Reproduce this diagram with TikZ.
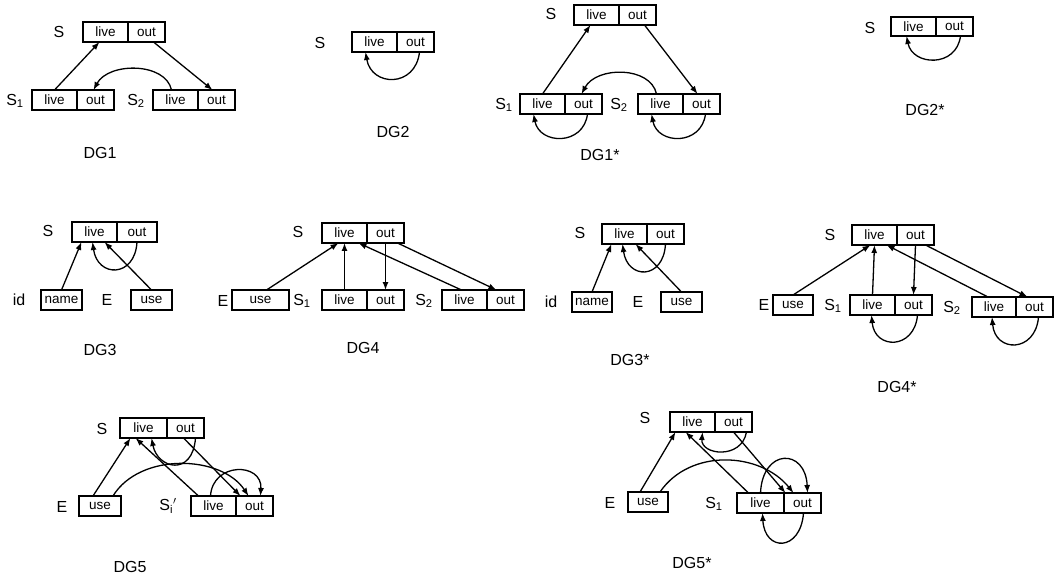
\documentclass[tikz,border=0pt]{standalone}
\usepackage{fontspec}
\setmainfont{Liberation Sans}
\usetikzlibrary{arrows.meta, positioning}
\tikzset{
    cell/.style={draw, line width=1.3pt, inner sep=0pt, outer sep=0pt,
        minimum height=20pt, font=\fontsize{13.5}{13.5}\selectfont},
    livecell/.style={cell, minimum width=45pt},
    outcell/.style={cell, minimum width=37pt},
    lbl/.style={font=\fontsize{16}{16}\selectfont},
    ttl/.style={font=\fontsize{16}{16}\selectfont},
    edge/.style={line width=1.3pt, -{Latex[length=8pt,width=6pt]}},
}

\begin{document}
\begin{tikzpicture}[x=1pt, y=-1pt]
\useasboundingbox (0,0) rectangle (1062,577);

% DG1
\node[lbl] (dg1-S) at (59,32) {S};
\node[livecell, anchor=north west] (dg1-Sl) at (83,22) {live};
\node[outcell, right=0pt of dg1-Sl] (dg1-So) {out};
\node[lbl] (dg1-S1) at (15,101) {S\textsubscript{1}};
\node[livecell, anchor=north west] (dg1-S1l) at (32,90) {live};
\node[outcell, right=0pt of dg1-S1l] (dg1-S1o) {out};
\node[lbl] (dg1-S2) at (136,101) {S\textsubscript{2}};
\node[livecell, anchor=north west] (dg1-S2l) at (153,90) {live};
\node[outcell, right=0pt of dg1-S2l] (dg1-S2o) {out};
\draw[edge] (dg1-S1l.north) -- ([xshift=-6pt]dg1-Sl.south);
\draw[edge] ([xshift=7pt]dg1-So.south) -- ([xshift=-4pt]dg1-S2o.north);
\draw[edge] ([xshift=-4pt]dg1-S2l.north) .. controls +(-6,-28) and +(15,-28) .. ([xshift=-2pt]dg1-S1o.north);
\node[ttl] (dg1-t) at (100,153) {DG1};

% DG2
\node[lbl] (dg2-S) at (320,43) {S};
\node[livecell, anchor=north west] (dg2-Sl) at (352,32) {live};
\node[outcell, right=0pt of dg2-Sl] (dg2-So) {out};
\draw[edge] ([xshift=4pt]dg2-So.south) .. controls +(-4,36) and +(6,35) .. ([xshift=-9pt]dg2-Sl.south);
\node[ttl] (dg2-t) at (393,132) {DG2};

% DG1*
\node[lbl] (dg1x-S) at (551,14) {S};
\node[livecell, anchor=north west] (dg1x-Sl) at (574,5) {live};
\node[outcell, right=0pt of dg1x-Sl] (dg1x-So) {out};
\node[lbl] (dg1x-S1) at (504,105) {S\textsubscript{1}};
\node[livecell, anchor=north west] (dg1x-S1l) at (520,94) {live};
\node[outcell, right=0pt of dg1x-S1l] (dg1x-S1o) {out};
\node[lbl] (dg1x-S2) at (619,105) {S\textsubscript{2}};
\node[livecell, anchor=north west] (dg1x-S2l) at (638,94) {live};
\node[outcell, right=0pt of dg1x-S2l] (dg1x-S2o) {out};
\draw[edge] (dg1x-S1l.north) -- ([xshift=-6pt]dg1x-Sl.south);
\draw[edge] ([xshift=7pt]dg1x-So.south) -- ([xshift=-4pt]dg1x-S2o.north);
\draw[edge] ([xshift=-4pt]dg1x-S2l.north) .. controls +(-6,-28) and +(15,-28) .. ([xshift=-2pt]dg1x-S1o.north);
\draw[edge] ([xshift=4pt]dg1x-S1o.south) .. controls +(-4,32) and +(6,31) .. ([xshift=-9pt]dg1x-S1l.south);
\draw[edge] ([xshift=4pt]dg1x-S2o.south) .. controls +(-4,32) and +(6,31) .. ([xshift=-9pt]dg1x-S2l.south);
\node[ttl] (dg1x-t) at (600,155) {DG1*};

% DG2*
\node[lbl] (dg2x-S) at (870,28) {S};
\node[livecell, minimum height=19pt, anchor=north west] (dg2x-Sl) at (891,17) {live};
\node[outcell, minimum height=19pt, right=0pt of dg2x-Sl] (dg2x-So) {out};
\draw[edge] ([xshift=6pt]dg2x-So.south) .. controls +(-4,32) and +(6,30) .. ([xshift=-7pt]dg2x-Sl.south);
\node[ttl] (dg2x-t) at (925,110) {DG2*};

% DG3
\node[lbl] (dg3-S) at (48,231) {S};
\node[livecell, anchor=north west] (dg3-Sl) at (72,222) {live};
\node[outcell, minimum width=40pt, right=0pt of dg3-Sl] (dg3-So) {out};
\node[lbl] (dg3-id) at (19,300) {id};
\node[cell, minimum width=41pt, anchor=north west] (dg3-name) at (41,290) {name};
\node[lbl] (dg3-E) at (107,300) {E};
\node[cell, minimum width=41pt, anchor=north west] (dg3-use) at (131,290) {use};
\draw[edge] (dg3-name.north) -- ([xshift=-13pt]dg3-Sl.south);
\draw[edge] (dg3-use.north) -- ([xshift=10pt]dg3-Sl.south);
\draw[edge] (dg3-So.south) .. controls +(-2,36) and +(5,36) .. ([xshift=-2pt]dg3-Sl.south);
\node[ttl] (dg3-t) at (100,350) {DG3};

% DG4
\node[lbl] (dg4-S) at (298,232) {S};
\node[livecell, anchor=north west] (dg4-Sl) at (322,223) {live};
\node[outcell, right=0pt of dg4-Sl] (dg4-So) {out};
\node[lbl] (dg4-E) at (223,301) {E};
\node[cell, minimum width=57pt, anchor=north west] (dg4-use) at (232,290) {use};
\node[lbl] (dg4-S1) at (302,301) {S\textsubscript{1}};
\node[livecell, anchor=north west] (dg4-S1l) at (322,290) {live};
\node[outcell, right=0pt of dg4-S1l] (dg4-S1o) {out};
\node[lbl] (dg4-S2) at (424,301) {S\textsubscript{2}};
\node[livecell, anchor=north west] (dg4-S2l) at (442,290) {live};
\node[outcell, right=0pt of dg4-S2l] (dg4-S2o) {out};
\draw[edge] ([xshift=6pt]dg4-use.north) -- ([xshift=-6pt]dg4-Sl.south);
\draw[edge] (dg4-S1l.north) -- (dg4-Sl.south);
\draw[edge] (dg4-So.south) -- (dg4-S1o.north);
\draw[edge] ([xshift=-3pt]dg4-S2l.north) -- ([xshift=14pt]dg4-Sl.south);
\draw[edge] ([xshift=12pt]dg4-So.south) -- ([xshift=-9pt]dg4-S2o.north);
\node[ttl] (dg4-t) at (363,348) {DG4};

% DG3*
\node[lbl] (dg3x-S) at (580,233) {S};
\node[livecell, anchor=north west] (dg3x-Sl) at (602,224) {live};
\node[outcell, right=0pt of dg3x-Sl] (dg3x-So) {out};
\node[lbl] (dg3x-id) at (551,302) {id};
\node[cell, minimum width=40pt, anchor=north west] (dg3x-name) at (572,292) {name};
\node[lbl] (dg3x-E) at (638,302) {E};
\node[cell, minimum width=41pt, anchor=north west] (dg3x-use) at (661,292) {use};
\draw[edge] (dg3x-name.north) -- ([xshift=-13pt]dg3x-Sl.south);
\draw[edge] (dg3x-use.north) -- ([xshift=11pt]dg3x-Sl.south);
\draw[edge] (dg3x-So.south) .. controls +(-2,36) and +(5,36) .. ([xshift=-2pt]dg3x-Sl.south);
\node[ttl] (dg3x-t) at (630,360) {DG3*};

% DG4*
\node[lbl] (dg4x-S) at (830,235) {S};
\node[livecell, anchor=north west] (dg4x-Sl) at (852,225) {live};
\node[outcell, right=0pt of dg4x-Sl] (dg4x-So) {out};
\node[lbl] (dg4x-E) at (764,305) {E};
\node[cell, minimum width=40pt, anchor=north west] (dg4x-use) at (773,295) {use};
\node[lbl] (dg4x-S1) at (833,306) {S\textsubscript{1}};
\node[livecell, anchor=north west] (dg4x-S1l) at (850,295) {live};
\node[outcell, right=0pt of dg4x-S1l] (dg4x-S1o) {out};
\node[lbl] (dg4x-S2) at (952,308) {S\textsubscript{2}};
\node[livecell, minimum width=44pt, anchor=north west] (dg4x-S2l) at (972,297) {live};
\node[outcell, right=0pt of dg4x-S2l] (dg4x-S2o) {out};
\draw[edge] (dg4x-use.north) -- ([xshift=-4pt]dg4x-Sl.south);
\draw[edge] (dg4x-S1l.north) -- (dg4x-Sl.south);
\draw[edge] (dg4x-So.south) -- (dg4x-S1o.north);
\draw[edge] ([xshift=-6pt]dg4x-S2l.north) -- ([xshift=12pt]dg4x-Sl.south);
\draw[edge] ([xshift=10pt]dg4x-So.south) -- ([xshift=-7pt]dg4x-S2o.north);
\draw[edge] ([xshift=4pt]dg4x-S1o.south) .. controls +(-3,35) and +(3,35) .. ([xshift=-1pt]dg4x-S1l.south);
\draw[edge] ([xshift=4pt]dg4x-S2o.south) .. controls +(-3,36) and +(3,36) .. ([xshift=-2pt]dg4x-S2l.south);
\node[ttl] (dg4x-t) at (897,387) {DG4*};

% DG5
\node[lbl] (dg5-S) at (102,429) {S};
\node[livecell, minimum width=47pt, anchor=north west] (dg5-Sl) at (120,418) {live};
\node[outcell, right=0pt of dg5-Sl] (dg5-So) {out};
\node[lbl] (dg5-E) at (62,507) {E};
\node[cell, minimum width=42pt, anchor=north west] (dg5-use) at (79,496) {use};
\node[lbl] (dg5-Si) at (168,506) {S\textsubscript{i}$'$};
\node[livecell, anchor=north west] (dg5-Sil) at (191,496) {live};
\node[outcell, right=0pt of dg5-Sil] (dg5-Sio) {out};
\draw[edge] ([xshift=-7pt]dg5-use.north) -- ([xshift=-13pt]dg5-Sl.south);
\draw[edge] ([xshift=-15pt]dg5-Sil.north) -- ([xshift=-8pt]dg5-Sl.south);
\draw[edge] ([xshift=10pt]dg5-So.south) .. controls +(-3,39) and +(6,31) .. ([xshift=8pt]dg5-Sl.south);
\draw[edge] ([xshift=-2pt]dg5-So.south) -- ([xshift=-14pt]dg5-Sio.north);
\draw[edge] ([xshift=13pt]dg5-use.north) .. controls +(27,-44) and +(-27,-41) .. ([xshift=-6pt]dg5-Sio.north);
\draw[edge] ([xshift=-3pt]dg5-Sil.north) .. controls +(2,-34) and +(2,-34) .. ([xshift=6pt]dg5-Sio.north);
\node[ttl] (dg5-t) at (130,567) {DG5};

% DG5*
\node[lbl] (dg5x-S) at (645,418) {S};
\node[livecell, anchor=north west] (dg5x-Sl) at (670,412) {live};
\node[outcell, right=0pt of dg5x-Sl] (dg5x-So) {out};
\node[lbl] (dg5x-E) at (610,503) {E};
\node[cell, minimum width=40pt, anchor=north west] (dg5x-use) at (628,492) {use};
\node[lbl] (dg5x-S1) at (714,504) {S\textsubscript{1}};
\node[livecell, minimum width=47pt, anchor=north west] (dg5x-S1l) at (737,493) {live};
\node[outcell, right=0pt of dg5x-S1l] (dg5x-S1o) {out};
\draw[edge] ([xshift=-8pt]dg5x-use.north) -- ([xshift=-17pt]dg5x-Sl.south);
\draw[edge] ([xshift=-12pt]dg5x-S1l.north) -- ([xshift=-7pt]dg5x-Sl.south);
\draw[edge] ([xshift=13pt]dg5x-So.south) .. controls +(-5,28) and +(-2,23) .. ([xshift=10pt]dg5x-Sl.south);
\draw[edge] (dg5x-So.south) -- ([xshift=-17pt]dg5x-S1o.north);
\draw[edge] ([xshift=12pt]dg5x-use.north) .. controls +(30,-44) and +(-33,-41) .. ([xshift=-9pt]dg5x-S1o.north);
\draw[edge] (dg5x-S1l.north) .. controls +(2,-45) and +(-2,-45) .. ([xshift=5pt]dg5x-S1o.north);
\draw[edge] ([xshift=1pt]dg5x-S1o.south) .. controls +(-3,39) and +(2,39) .. ([xshift=2pt]dg5x-S1l.south);
\node[ttl] (dg5x-t) at (692,563) {DG5*};
\end{tikzpicture}
\end{document}
